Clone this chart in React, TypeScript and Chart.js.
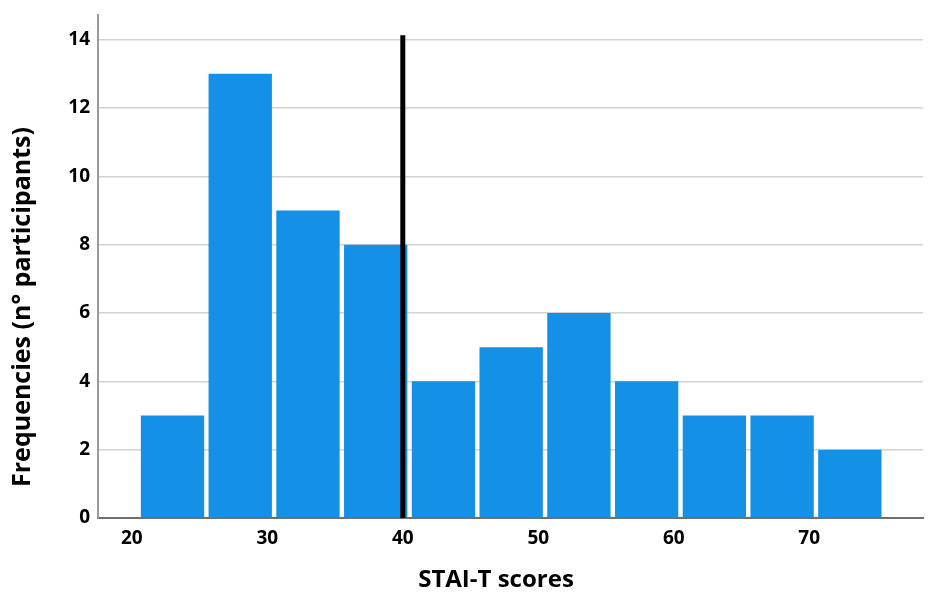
import React, { useEffect, useRef } from "react";
import { Chart, registerables } from "chart.js";

Chart.register(...registerables);

// ---- data ----
const binCenters = [23, 28, 33, 38, 43, 48, 53, 58, 63, 68, 73];
const frequencies = [3, 13, 9, 8, 4, 5, 6, 4, 3, 3, 2];
const xTickValues = [20, 30, 40, 50, 60, 70];
const yTickValues = [0, 2, 4, 6, 8, 10, 12, 14];
const cutoffScore = [40, 40];
const cutoffHeight = [0, 14.13];
const xTitle = "STAI-T scores";
const yTitle = "Frequencies (n° participants)";

const FONT = '"Open Sans", "Noto Sans", sans-serif';

const titlesPlugin = {
  id: "customTitles",
  afterDraw(chart: any) {
    const ctx = chart.ctx as CanvasRenderingContext2D;
    ctx.save();
    ctx.fillStyle = "#000";
    ctx.textAlign = "center";
    ctx.textBaseline = "alphabetic";
    ctx.font = `bold 24px ${FONT}`;
    ctx.fillText(xTitle, 496, 587);
    ctx.translate(30, 307);
    ctx.rotate(-Math.PI / 2);
    ctx.font = `bold 25px ${FONT}`;
    ctx.fillText(yTitle, 0, 0);
    ctx.restore();
  },
};

export default function App() {
  const ref = useRef<HTMLCanvasElement | null>(null);

  useEffect(() => {
    document.body.style.margin = "0";
    const canvas = ref.current;
    if (!canvas) return;
    const chart = new Chart(canvas, {
      type: "bar",
      data: {
        datasets: [
          {
            type: "line",
            label: "cutoff",
            data: cutoffScore.map((x, i) => ({ x, y: cutoffHeight[i] })),
            borderColor: "#000",
            borderWidth: 5,
            pointRadius: 0,
            borderCapStyle: "butt",
            order: 0,
          } as any,
          {
            type: "bar",
            label: "Frequencies",
            data: binCenters.map((x, i) => ({ x, y: frequencies[i] })),
            backgroundColor: "#1490e6",
            borderWidth: 0,
            barPercentage: 0.935,
            categoryPercentage: 1,
            order: 1,
          } as any,
        ],
      },
      options: {
        animation: false,
        responsive: false,
        maintainAspectRatio: false,
        layout: { padding: { left: 0, top: 15, right: 12, bottom: 0 } },
        plugins: { legend: { display: false }, tooltip: { enabled: false } },
        scales: {
          x: {
            type: "linear",
            offset: false,
            min: 17.5,
            max: 78.4,
            afterBuildTicks: (scale: any) => {
              scale.ticks = xTickValues.map((v) => ({ value: v }));
            },
            afterFit: (scale: any) => {
              scale.height = 81;
              scale.paddingLeft = 0;
              scale.paddingRight = 0;
            },
            grid: { color: "rgba(0,0,0,0)", drawTicks: false, offset: false },
            border: { display: true, color: "#6f6f6f", width: 2 },
            ticks: {
              padding: 9,
              color: "#000",
              font: { family: FONT, size: 19, weight: "bold" },
              maxRotation: 0,
            },
          },
          y: {
            type: "linear",
            min: 0,
            max: 14.72,
            afterBuildTicks: (scale: any) => {
              scale.ticks = yTickValues.map((v) => ({ value: v }));
            },
            afterFit: (scale: any) => {
              scale.width = 98;
              scale.paddingTop = 0;
              scale.paddingBottom = 0;
            },
            grid: { color: "#d2d2d2", lineWidth: 1.5, drawTicks: false },
            border: { display: true, color: "#9a9a9a", width: 2 },
            ticks: {
              padding: 8,
              color: "#000",
              font: { family: FONT, size: 19, weight: "bold" },
            },
          },
        },
      },
      plugins: [titlesPlugin],
    });
    return () => chart.destroy();
  }, []);

  return (
    <div style={{ position: "relative", width: 935, height: 599, background: "#fff" }}>
      <canvas ref={ref} width={935} height={599} style={{ display: "block" }} />
    </div>
  );
}
